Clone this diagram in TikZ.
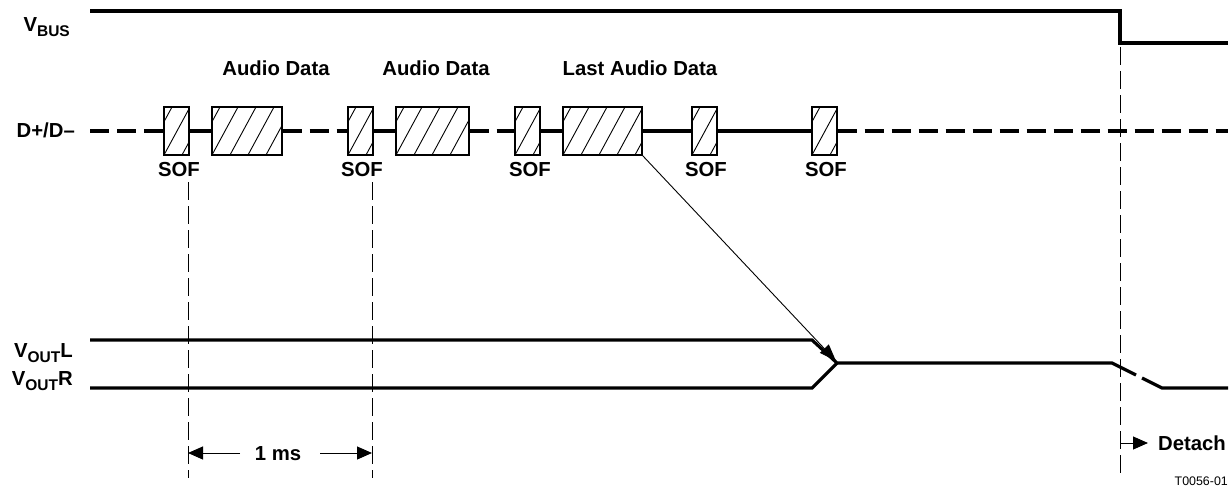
\documentclass[tikz,border=0pt]{standalone}
\usepackage{fontspec}
\setmainfont{Liberation Sans}
\usetikzlibrary{arrows.meta}
\newcommand\lowsub[1]{\raisebox{-5pt}{\fontsize{15.5}{16}\selectfont #1}}
\begin{document}
\begin{tikzpicture}[x=1pt,y=-1pt,
  font=\fontsize{20.3}{24}\selectfont\bfseries,
  sig/.style={line width=3.2pt},
  ddash/.style={sig, dash pattern=on 19pt off 8pt},
  guide/.style={line width=1pt, dash pattern=on 18pt off 6pt},
  hbox/.style={draw, line width=1.2pt, fill=white, inner sep=0pt, minimum height=48pt,
    path picture={\foreach \i in {-3,...,6}{\draw[line width=0.9pt] ([xshift=\i*18pt]path picture bounding box.south west) -- ++(26pt,48pt);}}},
  lbl/.style={anchor=base, inner sep=0pt},
  tip/.style={line width=1pt, -{Triangle[length=15pt,width=13pt]}}]
\useasboundingbox (0,0) rectangle (1231,495);
% VBUS
\coordinate (vb0) at (90,11);
\coordinate (vb1) at (1120,11);
\coordinate (vb2) at (1120,43);
\coordinate (vb3) at (1228,43);
\draw[sig] (vb0) -- (vb1) -- (vb2) -- (vb3);
\node[lbl, anchor=base east] (vbus) at (70,32) {V\lowsub{BUS}};
% labels
\node[lbl] (ad1) at (276,76) {Audio Data};
\node[lbl] (ad2) at (436,76) {Audio Data};
\node[lbl] (lad) at (640,76) {Last Audio Data};
\node[lbl, anchor=base east] (dlbl) at (75,137) {D+/D\textendash};
% boxes
\node[hbox, minimum width=25pt] (sof1) at (176.5,131) {};
\node[hbox, minimum width=70pt] (aud1) at (247,131) {};
\node[hbox, minimum width=25pt] (sof2) at (360.5,131) {};
\node[hbox, minimum width=73pt] (aud2) at (432.5,131) {};
\node[hbox, minimum width=25pt] (sof3) at (527.5,131) {};
\node[hbox, minimum width=79pt] (last) at (602.5,131) {};
\node[hbox, minimum width=25pt] (sof4) at (704.5,131) {};
\node[hbox, minimum width=25pt] (sof5) at (824.5,131) {};
\coordinate (d0) at (90,131);
\coordinate (d1) at (1228,131);
\draw[ddash] (d0) -- (sof1.west);
\draw[sig] (sof1.east) -- (aud1.west);
\draw[ddash] (aud1.east) -- (sof2.west);
\draw[sig] (sof2.east) -- (aud2.west);
\draw[ddash] (aud2.east) -- (sof3.west);
\draw[sig] (sof3.east) -- (last.west);
\draw[sig] (last.east) -- (sof4.west);
\draw[sig] (sof4.east) -- (sof5.west);
\draw[ddash] (sof5.east) -- (d1);
% SOF labels
\node[lbl] (s1) at (179,176) {SOF};
\node[lbl] (s2) at (362,176) {SOF};
\node[lbl] (s3) at (530,176) {SOF};
\node[lbl] (s4) at (706,176) {SOF};
\node[lbl] (s5) at (826,176) {SOF};
% guides
\coordinate (g1a) at (188,182); \coordinate (g1b) at (188,478);
\coordinate (g2a) at (372,182); \coordinate (g2b) at (372,478);
\coordinate (g3a) at (1120,47); \coordinate (g3b) at (1120,478);
\draw[guide] (g1a) -- (g1b);
\draw[guide] (g2a) -- (g2b);
\draw[guide] (g3a) -- (g3b);
% VOUT
\coordinate (la) at (90,340);
\coordinate (lb) at (812,340);
\coordinate (merge) at (837,363);
\coordinate (ma) at (1112,363);
\coordinate (mb) at (1136,375);
\coordinate (mc) at (1142,378);
\coordinate (md) at (1162,388);
\coordinate (me) at (1228,388);
\coordinate (ra) at (90,388);
\coordinate (rb) at (812,388);
\draw[sig] (la) -- (lb) -- (merge) -- (ma) -- (mb);
\draw[sig] (mc) -- (md) -- (me);
\draw[sig] (ra) -- (rb) -- (merge);
\node[lbl, anchor=base east] (voutl) at (73,357) {V\lowsub{OUT}L};
\node[lbl, anchor=base east] (voutr) at (73,385) {V\lowsub{OUT}R};
% pointer
\coordinate (ptip) at (836,361);
\draw[line width=0.9pt, -{Triangle[length=17pt,width=12pt]}] (last.south east) -- (ptip);
% 1 ms
\node[lbl] (ms) at (278,460) {1 ms};
\coordinate (msl) at (240,453);
\coordinate (msr) at (320,453);
\draw[tip] (msl) -- (g1a |- msl);
\draw[tip] (msr) -- (g2a |- msr);
% detach
\node[lbl, anchor=base west] (det) at (1158,450) {Detach};
\coordinate (dtip) at (1148,443);
\draw[tip] (g3a |- dtip) -- (dtip);
% code
\node[lbl, anchor=base east, font=\fontsize{12.4}{14}\selectfont] (code) at (1228,485) {T0056-01};
\end{tikzpicture}
\end{document}
